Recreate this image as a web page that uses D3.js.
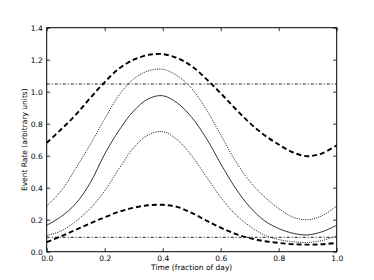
<!DOCTYPE html>
<html>
<head>
<meta charset="utf-8">
<script src="https://cdn.jsdelivr.net/npm/d3@7"></script>
<style>
  html, body { margin: 0; padding: 0; background: #fff; }
  svg { display: block; font-family: "DejaVu Sans", sans-serif; }
</style>
</head>
<body>
<svg id="chart" width="374" height="280"></svg>
<script>
// ── Data ──────────────────────────────────────────────────────────────────
const times = [0, 0.05, 0.10, 0.15, 0.20, 0.25, 0.30, 0.35, 0.40, 0.45, 0.50,
               0.55, 0.60, 0.65, 0.70, 0.75, 0.80, 0.85, 0.90, 0.95, 1.00];

const rateMean   = [0.165, 0.22, 0.30, 0.43, 0.61, 0.76, 0.88, 0.955, 0.975, 0.93, 0.84,
                    0.71, 0.55, 0.40, 0.28, 0.195, 0.145, 0.115, 0.105, 0.125, 0.165];
const rateUpper  = [0.285, 0.38, 0.52, 0.67, 0.83, 0.98, 1.08, 1.13, 1.14, 1.10, 1.02,
                    0.89, 0.73, 0.57, 0.44, 0.345, 0.27, 0.215, 0.20, 0.225, 0.285];
const rateLower  = [0.10, 0.13, 0.19, 0.27, 0.38, 0.52, 0.65, 0.73, 0.75, 0.70, 0.60,
                    0.47, 0.34, 0.235, 0.16, 0.105, 0.076, 0.062, 0.058, 0.07, 0.10];
const envHigh    = [0.68, 0.765, 0.855, 0.96, 1.06, 1.145, 1.20, 1.23, 1.235, 1.21, 1.16,
                    1.08, 0.99, 0.895, 0.805, 0.73, 0.67, 0.62, 0.597, 0.615, 0.665];
const envLow     = [0.06, 0.097, 0.137, 0.177, 0.215, 0.25, 0.275, 0.29, 0.293, 0.28, 0.243,
                    0.195, 0.15, 0.112, 0.085, 0.066, 0.055, 0.047, 0.044, 0.047, 0.055];
const limits     = [1.048, 0.09];

const xTicks = [0, 0.2, 0.4, 0.6, 0.8, 1.0];
const yTicks = [0, 0.2, 0.4, 0.6, 0.8, 1.0, 1.2, 1.4];

// ── Layout ────────────────────────────────────────────────────────────────
const M = { left: 46.7, right: 336.7, top: 27.7, bottom: 251.7 };
const svg = d3.select('#chart');

const x = d3.scaleLinear().domain([0, 1]).range([M.left, M.right]);
const y = d3.scaleLinear().domain([0, 1.4]).range([M.bottom, M.top]);

const STYLE = {
  mean:  { width: 0.8, dash: null },
  band:  { width: 0.9, dash: '1,1.2' },
  env:   { width: 1.9, dash: '5,3' },
  limit: { width: 0.9, dash: '3,2,1,2' }
};

const plot = svg.append('g');
const line = d3.line()
  .x((d, i) => x(times[i]))
  .y(d => y(d))
  .curve(d3.curveCatmullRom.alpha(0.5));

const series = [
  { values: envHigh,   s: STYLE.env },
  { values: rateUpper, s: STYLE.band },
  { values: rateMean,  s: STYLE.mean },
  { values: rateLower, s: STYLE.band },
  { values: envLow,    s: STYLE.env }
];

plot.selectAll('path.series')
  .data(series)
  .join('path')
  .attr('class', 'series')
  .attr('d', d => line(d.values))
  .attr('fill', 'none')
  .attr('stroke', '#000')
  .attr('stroke-width', d => d.s.width)
  .attr('stroke-dasharray', d => d.s.dash);

plot.selectAll('line.limit')
  .data(limits)
  .join('line')
  .attr('class', 'limit')
  .attr('x1', x(0)).attr('x2', x(1))
  .attr('y1', d => y(d)).attr('y2', d => y(d))
  .attr('stroke', '#000')
  .attr('stroke-width', STYLE.limit.width)
  .attr('stroke-dasharray', STYLE.limit.dash);

// ── Axes (ticks point inward, on all four sides) ──────────────────────────
const fmt = d3.format('.1f');
const axisStyle = g => {
  g.select('.domain').remove();
  g.selectAll('.tick line').attr('stroke', '#000').attr('stroke-width', 0.8);
  g.selectAll('.tick text')
    .attr('font-family', '"DejaVu Sans", sans-serif')
    .attr('font-size', '7.5px')
    .attr('fill', '#000');
};

svg.append('g')
  .attr('transform', `translate(0,${M.bottom})`)
  .call(d3.axisBottom(x).tickValues(xTicks).tickFormat(fmt).tickSize(-3.5).tickPadding(4))
  .call(axisStyle);
svg.append('g')
  .attr('transform', `translate(0,${M.top})`)
  .call(d3.axisTop(x).tickValues(xTicks).tickFormat('').tickSize(-3.5))
  .call(axisStyle);
svg.append('g')
  .attr('transform', `translate(${M.left},0)`)
  .call(d3.axisLeft(y).tickValues(yTicks).tickFormat(fmt).tickSize(-3.5).tickPadding(4))
  .call(axisStyle);
svg.append('g')
  .attr('transform', `translate(${M.right},0)`)
  .call(d3.axisRight(y).tickValues(yTicks).tickFormat('').tickSize(-3.5))
  .call(axisStyle);

// frame
svg.append('rect')
  .attr('x', M.left).attr('y', M.top)
  .attr('width', M.right - M.left).attr('height', M.bottom - M.top)
  .attr('fill', 'none').attr('stroke', '#000').attr('stroke-width', 1);

// labels
svg.append('text')
  .attr('x', (M.left + M.right) / 2).attr('y', 270)
  .attr('text-anchor', 'middle')
  .attr('font-size', '7.5px')
  .text('Time (fraction of day)');

svg.append('text')
  .attr('transform', `translate(27,${(M.top + M.bottom) / 2}) rotate(-90)`)
  .attr('text-anchor', 'middle')
  .attr('font-size', '7.5px')
  .text('Event Rate (arbitrary units)');
</script>
</body>
</html>
